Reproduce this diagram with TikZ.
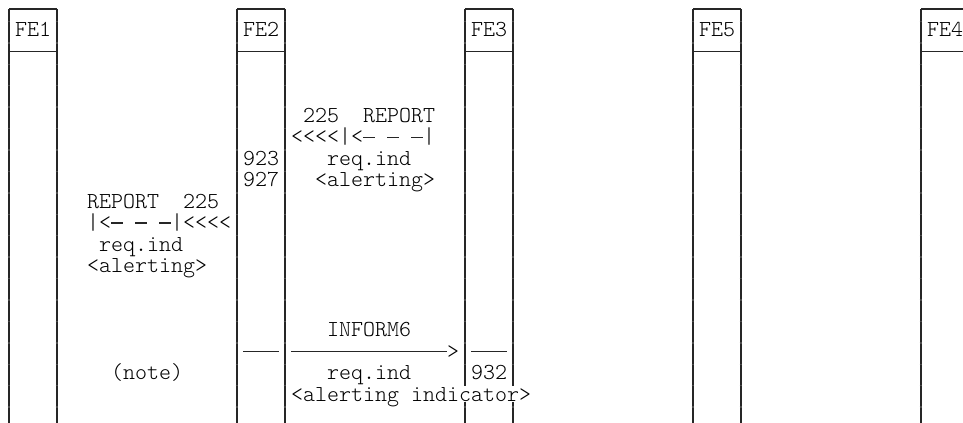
\documentclass[tikz,border=0pt]{standalone}
\usepackage{fontspec}
\newfontfamily\lmlight{Latin Modern Mono Light}
\tikzset{
  txt/.style={anchor=base west, inner sep=0pt, outer sep=0pt, font=\lmlight\fontsize{17.143}{20}\selectfont, text=black},
  ln/.style={line width=1.15pt, black!85},
  tick/.style={line width=1.1pt, black!70},
}
\begin{document}
\begin{tikzpicture}[x=0.75pt,y=-0.75pt]
\useasboundingbox (0,0) rectangle (963,423);
\clip (0,0) rectangle (963,423);
% column x of cell c: left edge 3+12c, centre 9+12c ; row r: line y 8.8+21.43r, baseline +6.5
% lifelines
\foreach \c in {0,4,19,23,57,61,76,80}{
  \draw[ln] ({9+12*\c},8.8) -- ({9+12*\c},430);
  \foreach \k in {1,...,19}{\draw[tick] ({9+12*\c-1.3},{21.43*\k}) -- ++(2.6,0);}
}
\foreach \c in {38,42}{
  \draw[ln] ({9+12*\c},8.8) -- ({9+12*\c},386);
  \draw[ln] ({9+12*\c},402) -- ({9+12*\c},430);
  \foreach \k in {1,...,17}{\draw[tick] ({9+12*\c-1.3},{21.43*\k}) -- ++(2.6,0);}
  \draw[tick] ({9+12*\c-1.3},{21.43*19}) -- ++(2.6,0);
}
% header boxes
\foreach \c in {0,19,38,57,76}{
  \draw[ln] ({9+12*\c},8.8) -- ({9+12*(\c+4)},8.8);
  \draw[ln] ({9+12*\c},51.7) -- ({9+12*(\c+4)},51.7);
}
\node[txt] (fe1) at ({3+12*1},{8.8+21.43*1+6.5}) {FE1};
\node[txt] (fe2) at ({3+12*20},{8.8+21.43*1+6.5}) {FE2};
\node[txt] (fe3) at ({3+12*39},{8.8+21.43*1+6.5}) {FE3};
\node[txt] (fe5) at ({3+12*58},{8.8+21.43*1+6.5}) {FE5};
\node[txt] (fe4) at ({3+12*77},{8.8+21.43*1+6.5}) {FE4};
% first REPORT (FE3 -> FE2)
\node[txt] (n225a) at ({3+12*25},{8.8+21.43*5+6.5}) {225};
\node[txt] (repa) at ({3+12*30},{8.8+21.43*5+6.5}) {REPORT};
\node[txt] (arra) at ({3+12*24},{8.8+21.43*6+6.5}) {<<<<|<};
\node[txt] (bara) at ({3+12*35},{8.8+21.43*6+6.5}) {|};
\foreach \c in {30,32,34}{\draw[ln] ({3+12*\c},{8.8+21.43*6}) -- ({15+12*\c},{8.8+21.43*6});}
\node[txt] (n923) at ({3+12*20},{8.8+21.43*7+6.5}) {923};
\node[txt] (reqa) at ({3+12*27},{8.8+21.43*7+6.5}) {req.ind};
\node[txt] (n927) at ({3+12*20},{8.8+21.43*8+6.5}) {927};
\node[txt] (alta) at ({3+12*26},{8.8+21.43*8+6.5}) {<alerting>};
% second REPORT (FE2 -> FE1)
\node[txt] (repb) at ({3+12*7},{8.8+21.43*9+6.5}) {REPORT};
\node[txt] (n225b) at ({3+12*15},{8.8+21.43*9+6.5}) {225};
\node[txt] (arrb) at ({3+12*7},{8.8+21.43*10+6.5}) {|<};
\node[txt] (barb) at ({3+12*14},{8.8+21.43*10+6.5}) {|<<<<};
\foreach \c in {9,11,13}{\draw[ln] ({3+12*\c},{8.8+21.43*10}) -- ({15+12*\c},{8.8+21.43*10});}
\node[txt] (reqb) at ({3+12*8},{8.8+21.43*11+6.5}) {req.ind};
\node[txt] (altb) at ({3+12*7},{8.8+21.43*12+6.5}) {<alerting>};
% INFORM6 (FE2 -> FE3)
\node[txt] (inf) at ({3+12*27},{8.8+21.43*15+6.5}) {INFORM6};
\draw[ln] ({3+12*20},{8.8+21.43*16}) -- ({15+12*22},{8.8+21.43*16});
\draw[ln] ({3+12*24},{8.8+21.43*16}) -- ({15+12*36},{8.8+21.43*16});
\node[txt] (tip) at ({3+12*37},{8.8+21.43*16+6.5}) {>};
\draw[ln] ({3+12*39},{8.8+21.43*16}) -- ({15+12*41},{8.8+21.43*16});
\node[txt] (note) at ({3+12*9},{8.8+21.43*17+6.5}) {(note)};
\node[txt] (reqc) at ({3+12*27},{8.8+21.43*17+6.5}) {req.ind};
\node[txt] (n932) at ({3+12*39},{8.8+21.43*17+6.5}) {932};
\node[txt] (altc) at ({3+12*24},{8.8+21.43*18+6.5}) {<alerting indicator>};
\end{tikzpicture}
\end{document}
